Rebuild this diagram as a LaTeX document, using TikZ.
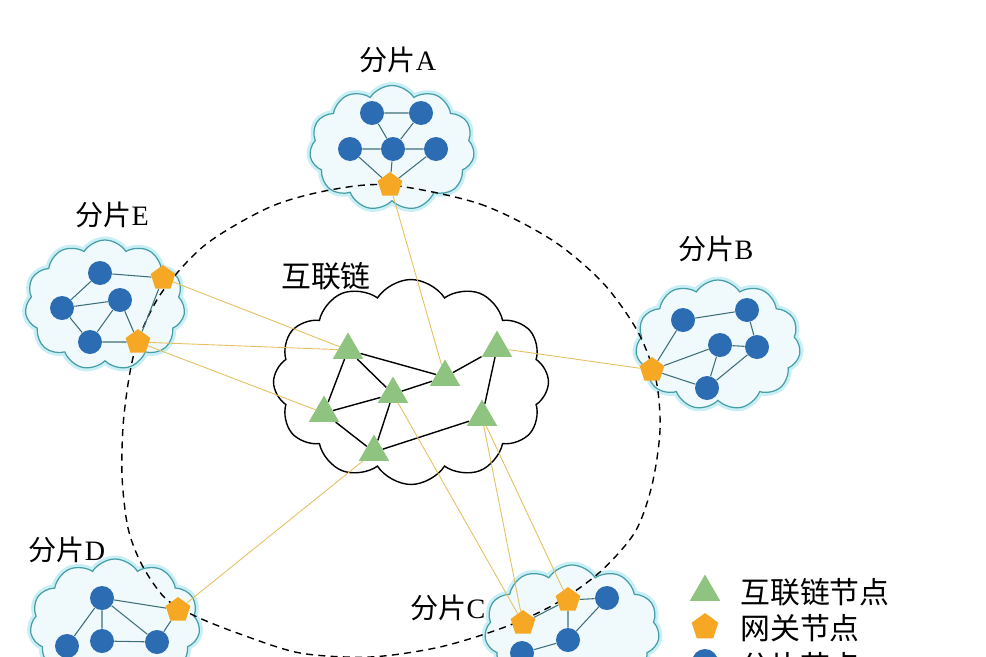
\documentclass[tikz,border=0pt]{standalone}
\usepackage{fontspec}
\setmainfont{Liberation Serif}
\newfontfamily\cjk{Noto Sans CJK SC}
\usetikzlibrary{shapes.geometric,shapes.symbols,positioning}
\definecolor{shardblue}{RGB}{44,108,178}
\definecolor{gateorange}{RGB}{246,168,36}
\definecolor{relaygreen}{RGB}{143,196,128}
\definecolor{cloudteal}{RGB}{70,158,166}
\definecolor{cloudfill}{RGB}{240,250,252}
\definecolor{cloudglow}{RGB}{200,238,246}
\definecolor{linkteal}{RGB}{62,110,122}
\definecolor{bridgeyellow}{RGB}{228,192,96}
\pgfdeclarelayer{back}
\pgfdeclarelayer{mid}
\pgfsetlayers{back,mid,main}

\begin{document}
\begin{tikzpicture}[
  x=0.02cm, y=-0.02cm,
  font=\fontsize{16}{19}\selectfont,
  shardcloud/.style={cloud, cloud puffs=11, cloud puff arc=115, draw=cloudteal, fill=cloudfill, line width=0.7pt, preaction={draw=cloudglow, line width=4pt}, inner sep=0pt},
  hubcloud/.style={cloud, cloud puffs=12, cloud puff arc=115, draw=black, fill=white, line width=0.8pt, inner sep=0pt},
  member/.style={circle, fill=shardblue, minimum size=0.48cm, inner sep=0pt},
  gateway/.style={regular polygon, regular polygon sides=5, fill=gateorange, minimum size=0.52cm, inner sep=0pt},
  relay/.style={regular polygon, regular polygon sides=3, fill=relaygreen, minimum size=0.7cm, inner sep=0pt},
  link/.style={draw=linkteal, line width=0.6pt},
  chain/.style={draw=black, line width=0.8pt},
  bridge/.style={draw=bridgeyellow, line width=0.5pt},
  ring/.style={draw=black, line width=0.8pt, dash pattern=on 4pt off 3pt},
  tag/.style={inner sep=0pt},
  keytext/.style={inner sep=0pt, anchor=west, font=\fontsize{17}{20}\selectfont\cjk}
]
\useasboundingbox (0,0) rectangle (986,656);
\clip (0,0) rectangle (986,656);

% clouds
\begin{pgfonlayer}{back}
\node[shardcloud, minimum width=3.3cm, minimum height=2.5cm] (cloudA) at (392,148) {};
\node[shardcloud, minimum width=3.2cm, minimum height=2.6cm] (cloudE) at (105,305) {};
\node[shardcloud, minimum width=3.3cm, minimum height=2.6cm] (cloudB) at (718,345) {};
\node[shardcloud, minimum width=3.4cm, minimum height=2.6cm] (cloudD) at (115,624) {};
\node[shardcloud, minimum width=3.5cm, minimum height=2.6cm] (cloudC) at (572,630) {};
\node[hubcloud, minimum width=5.5cm, minimum height=4.1cm] (hub) at (411,382) {};
\end{pgfonlayer}

% labels
\node[tag] (tagA) at (398,60) {{\cjk 分片}A};
\node[tag] (tagE) at (112,215) {{\cjk 分片}E};
\node[tag] (tagB) at (716,249) {{\cjk 分片}B};
\node[tag] (tagD) at (67,550) {{\cjk 分片}D};
\node[tag] (tagC) at (448,608) {{\cjk 分片}C};
\node[tag, font=\fontsize{17}{20}\selectfont\cjk] (tagHub) at (326,276) {互联链};

% shard A
\node[member] (a1) at (372,113) {};
\node[member] (a2) at (421,113) {};
\node[member] (a3) at (350,149) {};
\node[member] (a4) at (393,149) {};
\node[member] (a5) at (436,149) {};
\node[gateway] (gA) at (390,185) {};

% shard E
\node[member] (e1) at (100,273) {};
\node[member] (e2) at (62,308) {};
\node[member] (e3) at (120,300) {};
\node[member] (e4) at (90,342) {};
\node[gateway] (gE1) at (163,278) {};
\node[gateway] (gE2) at (138,342) {};

% shard B
\node[member] (b1) at (683,320) {};
\node[member] (b2) at (747,310) {};
\node[member] (b3) at (720,345) {};
\node[member] (b4) at (757,347) {};
\node[member] (b5) at (707,388) {};
\node[gateway] (gB) at (652,370) {};

% shard D
\node[member] (d1) at (102,598) {};
\node[member] (d2) at (67,646) {};
\node[member] (d3) at (102,641) {};
\node[member] (d4) at (157,642) {};
\node[gateway] (gD) at (178,610) {};

% shard C
\node[member] (c1) at (607,598) {};
\node[member] (c2) at (568,640) {};
\node[member] (c3) at (522,653) {};
\node[gateway] (gC1) at (523,623) {};
\node[gateway] (gC2) at (568,600) {};

% interconnect chain
\node[relay] (t1) at (348,350) {};
\node[relay] (t2) at (497,348) {};
\node[relay] (t3) at (445,377) {};
\node[relay] (t4) at (393,394) {};
\node[relay] (t5) at (324,413) {};
\node[relay] (t6) at (482,417) {};
\node[relay] (t7) at (374,452) {};

% legend
\node[relay] (keyRelay) at (705,592) {};
\node[gateway, minimum size=0.56cm] (keyGate) at (705,627) {};
\node[member, minimum size=0.52cm] (keyMember) at (705,662) {};
\node[keytext] (keyRelayText) at (740,592) {互联链节点};
\node[keytext] (keyGateText) at (740,628) {网关节点};
\node[keytext] (keyMemberText) at (740,666) {分片节点};

\begin{pgfonlayer}{mid}
\draw[ring] plot[smooth cycle] coordinates {(390,185) (480,204) (552,240) (603,283) (638,332) (656,380) (660,430) (652,485) (635,532) (600,572) (555,604) (505,627) (440,647) (370,657) (300,653) (240,634) (195,616) (165,598) (142,565) (128,528) (122,475) (124,415) (135,350) (160,295) (205,245) (270,207) (330,190)};

\draw[link] (a1) -- (a2) (a1) -- (a4) (a2) -- (a4) (a3) -- (a4) (a4) -- (a5)
  (gA) -- (a3) (gA) -- (a4) (gA) -- (a5);
\draw[link] (e1) -- (gE1) (e1) -- (e2) (e2) -- (e3) (e2) -- (e4) (e3) -- (e4)
  (e3) -- (gE2) (e4) -- (gE2) (gE1) -- (gE2);
\draw[link] (b1) -- (b2) (b2) -- (b4) (b3) -- (b4) (b3) -- (b5) (b4) -- (b5)
  (gB) -- (b1) (gB) -- (b3) (gB) -- (b5);
\draw[link] (d1) -- (gD) (d1) -- (d2) (d1) -- (d3) (d1) -- (d4) (d3) -- (d4) (d4) -- (gD);
\draw[link] (gC1) -- (gC2) (gC2) -- (c1) (gC2) -- (c2) (c1) -- (c2) (c2) -- (c3);

\draw[chain] (t1) -- (t3) (t1) -- (t4) (t1) -- (t5) (t4) -- (t3) (t3) -- (t2)
  (t2) -- (t6) (t5) -- (t4) (t5) -- (t7) (t4) -- (t7) (t7) -- (t6);

\draw[bridge] (gA) -- (t3);
\draw[bridge] (gE1) -- (t1);
\draw[bridge] (gE2) -- (t1);
\draw[bridge] (gE2) -- (t5);
\draw[bridge] (gB) -- (t2);
\draw[bridge] (gD) -- (t7);
\draw[bridge] (gC1) -- (t4);
\draw[bridge] (gC1) -- (t6);
\draw[bridge] (gC2) -- (t6);
\end{pgfonlayer}
\end{tikzpicture}
\end{document}
